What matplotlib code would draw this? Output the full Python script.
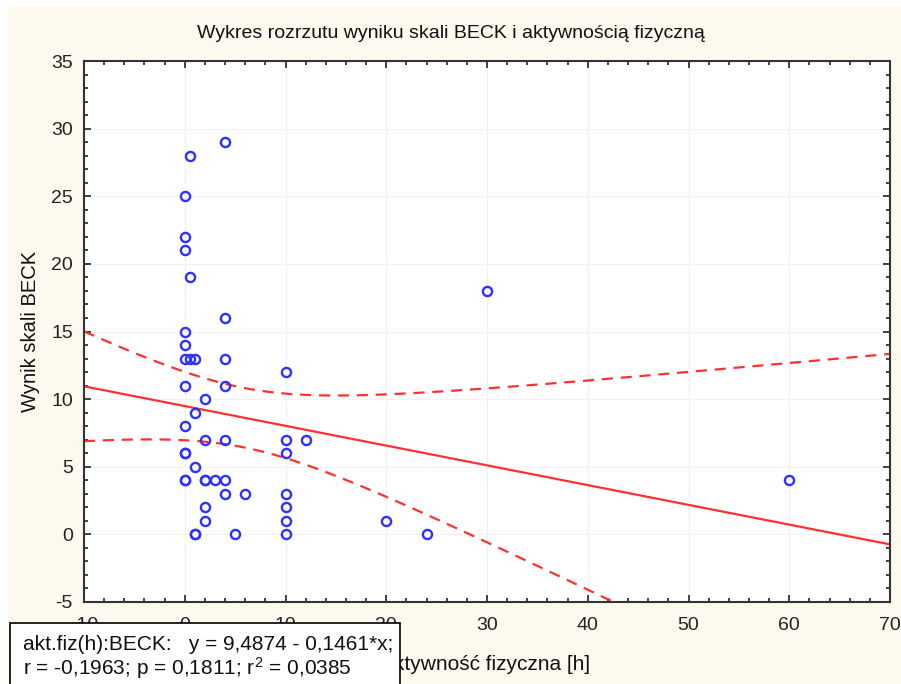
import numpy as np
import matplotlib
matplotlib.use("Agg")
import matplotlib.pyplot as plt
from matplotlib.patches import Rectangle
from matplotlib.ticker import MultipleLocator

plt.rcParams['font.family'] = ['Liberation Sans', 'DejaVu Sans']
plt.rcParams['axes.unicode_minus'] = False
plt.rcParams['mathtext.fontset'] = 'custom'
plt.rcParams['mathtext.rm'] = 'Liberation Sans'
plt.rcParams['mathtext.it'] = 'Liberation Sans:italic'
plt.rcParams['mathtext.bf'] = 'Liberation Sans:bold'

# data: physical activity [h] vs BECK score
x_vals = [0, 0, 0, 0, 0, 0, 0, 0, 0, 0, 0, 0,
          0.5, 0.5, 0.5,
          1, 1, 1, 1, 1,
          2, 2, 2, 2, 2, 2,
          3,
          4, 4, 4, 4, 4, 4, 4,
          5, 6,
          10, 10, 10, 10, 10, 10, 10,
          12, 20, 24, 30, 60]
y_vals = [25, 22, 21, 15, 14, 13, 11, 8, 6, 6, 4, 4,
          28, 19, 13,
          13, 9, 5, 0, 0,
          10, 7, 4, 4, 2, 1,
          4,
          29, 16, 13, 11, 7, 4, 3,
          0, 3,
          12, 7, 6, 3, 2, 1, 0,
          7, 1, 0, 18, 4]

title = "Wykres rozrzutu wyniku skali BECK i aktywnością fizyczną"
xlabel = "Aktywność fizyczna [h]"
ylabel = "Wynik skali BECK"
stats_line1 = "akt.fiz(h):BECK:   y = 9,4874 - 0,1461*x;"
stats_line2 = r"r = -0,1963; p = 0,1811; r$^\mathrm{2}$ = 0,0385"
t_crit = 2.0129  # t(0.975, df=46)

x = np.array(x_vals, float)
y = np.array(y_vals, float)
n = len(x)
b, a = np.polyfit(x, y, 1)
resid = y - (a + b * x)
s = np.sqrt(np.sum(resid ** 2) / (n - 2))
sxx = np.sum((x - x.mean()) ** 2)
xx = np.linspace(-10, 70, 400)
yy = a + b * xx
se = s * np.sqrt(1.0 / n + (xx - x.mean()) ** 2 / sxx)

fig = plt.figure(figsize=(9.01, 6.84), dpi=100)
fig.patch.set_facecolor('white')
cream = '#fef9ef'
fig.patches.append(Rectangle((8 / 901, 0), 1, 1 - 7 / 684, transform=fig.transFigure,
                             facecolor=cream, edgecolor='none', zorder=-10))

ax = fig.add_axes([84 / 901, 1 - 602 / 684, (890 - 84) / 901, (602 - 61) / 684])
ax.set_facecolor('white')

red = '#ff3030'
ax.plot(xx, yy, color=red, lw=1.6, zorder=2)
ax.plot(xx, yy + t_crit * se, color=red, lw=1.6, ls=(0, (5, 3.5)), zorder=2)
ax.plot(xx, yy - t_crit * se, color=red, lw=1.6, ls=(0, (5, 3.5)), zorder=2)
ax.plot(x, y, ls='none', marker='o', ms=6.6, mfc='none', mec='#3030ff', mew=1.7, zorder=3)

ax.set_xlim(-10, 70)
ax.set_ylim(-5, 35)
ax.xaxis.set_major_locator(MultipleLocator(10))
ax.xaxis.set_minor_locator(MultipleLocator(2))
ax.yaxis.set_major_locator(MultipleLocator(5))
ax.yaxis.set_minor_locator(MultipleLocator(1))
ax.tick_params(which='both', direction='in', top=True, right=True, colors='#222222',
               labelsize=14, width=1.2)
ax.tick_params(which='major', length=5)
ax.tick_params(axis='y', which='major', pad=8)
ax.tick_params(axis='x', which='major', pad=11)
ax.tick_params(which='minor', length=3)
ax.grid(True, which='major', color='#f2f2f2', lw=0.8, zorder=0)
for sp in ax.spines.values():
    sp.set_linewidth(1.5)
    sp.set_color('#333333')

fig.text(451 / 901, 1 - 33 / 684, title, ha='center', va='center', fontsize=14, color='#111111')
fig.text(590 / 901, 1 - 665 / 684, xlabel, ha='right', va='center', fontsize=15, color='#111111')
fig.text(30 / 901, 1 - 331 / 684, ylabel, ha='center', va='center', rotation=90, fontsize=14.5,
         color='#111111')

fig.patches.append(Rectangle((10 / 901, -0.02), (400 - 10) / 901, 0.02 + (684 - 623) / 684,
                             transform=fig.transFigure, facecolor='white', edgecolor='black',
                             lw=1.2, zorder=5))
fig.text(23 / 901, 1 - 645 / 684, stats_line1, ha='left', va='center', fontsize=15,
         color='#111111', zorder=6)
fig.text(23 / 901, 1 - 668 / 684, stats_line2, ha='left', va='center', fontsize=15,
         color='#111111', zorder=6)

fig.savefig('out.png', dpi=100, facecolor=fig.get_facecolor())
